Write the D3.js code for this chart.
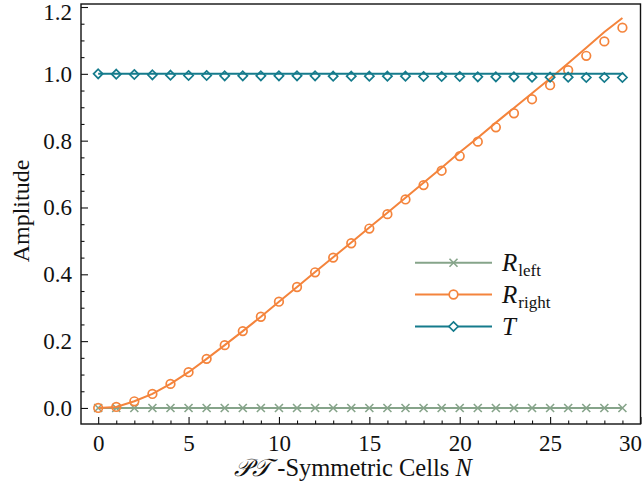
<!DOCTYPE html>
<html>
<head>
<meta charset="utf-8">
<script src="https://cdn.jsdelivr.net/npm/d3@7"></script>
<style>
  html, body { margin: 0; padding: 0; background: #fff; }
  svg { display: block; }
  text { font-family: "Liberation Serif", "DejaVu Serif", serif; fill: #111; }
</style>
</head>
<body>
<svg id="chart" width="644" height="494"></svg>
<script>
// Number of PT-symmetric cells
const cells = d3.range(0, 30);

// Reflection from the left (line and markers)
const rLeftLine = [0,0,0,0,0,0,0,0,0,0,0,0,0,0,0,0,0,0,0,0,0,0,0,0,0,0,0,0,0,0];
const rLeftPts  = [0,0,0,0,0,0,0,0,0,0,0,0,0,0,0,0,0,0,0,0,0,0,0,0,0,0,0,0,0,0];

// Reflection from the right: curve and sampled points
const rRightLine = [0.000,0.003,0.020,0.042,0.072,0.107,0.147,0.188,0.230,0.273,
                    0.318,0.362,0.407,0.451,0.495,0.540,0.584,0.629,0.674,0.719,
                    0.765,0.809,0.854,0.898,0.942,0.986,1.032,1.078,1.125,1.167];
const rRightPts  = [0.000,0.003,0.020,0.042,0.072,0.107,0.147,0.188,0.230,0.273,
                    0.318,0.362,0.406,0.450,0.493,0.537,0.580,0.624,0.667,0.710,
                    0.754,0.797,0.840,0.882,0.924,0.966,1.011,1.054,1.097,1.138];

// Transmission: curve and sampled points
const tLine = [1,1,1,1,1,1,1,1,1,1,1,1,1,1,1,1,1,1,1,1,1,1,1,1,1,1,1,1,1,1];
const tPts  = [1.000,0.999,0.998,0.997,0.996,0.995,0.995,0.994,0.994,0.994,
               0.994,0.994,0.994,0.993,0.993,0.993,0.993,0.993,0.992,0.992,
               0.992,0.991,0.991,0.991,0.990,0.990,0.990,0.989,0.989,0.989];

// Axis ticks
const xTicks = [0, 5, 10, 15, 20, 25, 30];
const yTicks = [0.0, 0.2, 0.4, 0.6, 0.8, 1.0, 1.2];

const series = [
  { sub: "left",  line: rLeftLine,  pts: rLeftPts,  color: "#86a48a", marker: "x" },
  { sub: "right", line: rRightLine, pts: rRightPts, color: "#f4843c", marker: "o" },
  { sub: null,    line: tLine,      pts: tPts,      color: "#157b8c", marker: "d" }
];

const svg = d3.select("#chart");
const plot = { left: 81, right: 640.5, top: 4, bottom: 424 };

const x = d3.scaleLinear().domain([-0.95, 30]).range([plot.left, plot.right]);
const y = d3.scaleLinear().domain([-0.048, 1.209]).range([plot.bottom, plot.top]);

// Axes with inward ticks
const xMinor = d3.range(0, 30).filter(v => v % 5 !== 0);
const yMinor = d3.range(0, 25).map(i => +(i * 0.05).toFixed(2)).filter(v => Math.round(v * 100) % 20 !== 0);

const gx = svg.append("g").attr("transform", `translate(0,${plot.bottom})`);
gx.call(d3.axisBottom(x).tickValues(xMinor).tickSize(-3.5).tickFormat(""));
const gxMajor = gx.append("g").call(d3.axisBottom(x).tickValues(xTicks).tickSize(-7).tickPadding(11).tickFormat(d3.format("d")));
// keep the last label inside the canvas
gxMajor.selectAll(".tick text").filter(d => d === 30).attr("text-anchor", "end").attr("dx", 1);

const gy = svg.append("g").attr("transform", `translate(${plot.left},0)`);
gy.call(d3.axisLeft(y).tickValues(yMinor).tickSize(-3.5).tickFormat(""));
const gyMajor = gy.append("g").call(d3.axisLeft(y).tickValues(yTicks).tickSize(-7).tickPadding(9).tickFormat(d3.format(".1f")));
// keep the top label inside the canvas
gyMajor.selectAll(".tick text").filter(d => d === 1.2).attr("dy", "0.55em");

svg.selectAll(".domain").remove();
svg.selectAll(".tick line").attr("stroke", "#111").attr("stroke-width", 1.1);
svg.selectAll(".tick text").attr("font-size", 23).attr("font-family", "Liberation Serif, serif").attr("fill", "#111");

// Data layer
svg.append("clipPath").attr("id", "plotclip")
  .append("rect").attr("x", plot.left).attr("y", plot.top)
  .attr("width", plot.right - plot.left).attr("height", plot.bottom - plot.top);

const layer = svg.append("g").attr("clip-path", "url(#plotclip)");

const line = d3.line().x((d, i) => x(cells[i])).y(d => y(d));

function drawMarker(g, type, cx, cy, color) {
  if (type === "x") {
    const s = 4;
    return g.append("path")
      .attr("d", `M${cx - s},${cy - s}L${cx + s},${cy + s}M${cx - s},${cy + s}L${cx + s},${cy - s}`)
      .attr("stroke", color).attr("stroke-width", 1.6).attr("fill", "none");
  } else if (type === "o") {
    return g.append("circle").attr("cx", cx).attr("cy", cy).attr("r", 4.3)
      .attr("stroke", color).attr("stroke-width", 1.7).attr("fill", "none");
  }
  const s = 4.6;
  return g.append("path")
    .attr("d", `M${cx},${cy - s}L${cx + s},${cy}L${cx},${cy + s}L${cx - s},${cy}Z`)
    .attr("stroke", color).attr("stroke-width", 1.7).attr("fill", "none");
}

series.forEach(s => {
  const g = layer.append("g");
  g.append("path").datum(s.line).attr("d", line)
    .attr("fill", "none").attr("stroke", s.color).attr("stroke-width", 2);
  s.pts.forEach((v, i) => drawMarker(g, s.marker, x(cells[i]), y(v), s.color));
});

// Frame
svg.append("rect")
  .attr("x", plot.left).attr("y", plot.top)
  .attr("width", plot.right - plot.left).attr("height", plot.bottom - plot.top)
  .attr("fill", "none").attr("stroke", "#111").attr("stroke-width", 1.4);

// Legend
const legend = svg.append("g");
const legRows = [262.7, 294.5, 326.5];
series.forEach((s, i) => {
  const cy = legRows[i];
  legend.append("line").attr("x1", 415).attr("x2", 492).attr("y1", cy).attr("y2", cy)
    .attr("stroke", s.color).attr("stroke-width", 2);
  const m = drawMarker(legend, s.marker, 453.5, cy, s.color);
  if (s.marker !== "x") m.attr("fill", "#fff");
  const t = legend.append("text").attr("x", 502).attr("y", cy + 8.5).attr("font-size", 25);
  t.append("tspan").attr("font-style", "italic").text(s.sub ? "R" : "T");
  if (s.sub) {
    t.append("tspan").attr("font-size", 17).attr("dy", 4.5).attr("dx", 1).text(s.sub);
  }
});

// Axis titles
const xt = svg.append("text").attr("x", 353).attr("y", 476)
  .attr("text-anchor", "middle").attr("font-size", 24.5);
xt.append("tspan").attr("font-family", "DejaVu Sans, Noto Sans, serif").attr("font-style", "italic").text("\u{1D4AB}\u{1D4AF}");
xt.append("tspan").text(" -Symmetric Cells ");
xt.append("tspan").attr("font-style", "italic").text("N");

svg.append("text")
  .attr("transform", "translate(29,211) rotate(-90)")
  .attr("text-anchor", "middle").attr("font-size", 24)
  .text("Amplitude");
</script>
</body>
</html>
